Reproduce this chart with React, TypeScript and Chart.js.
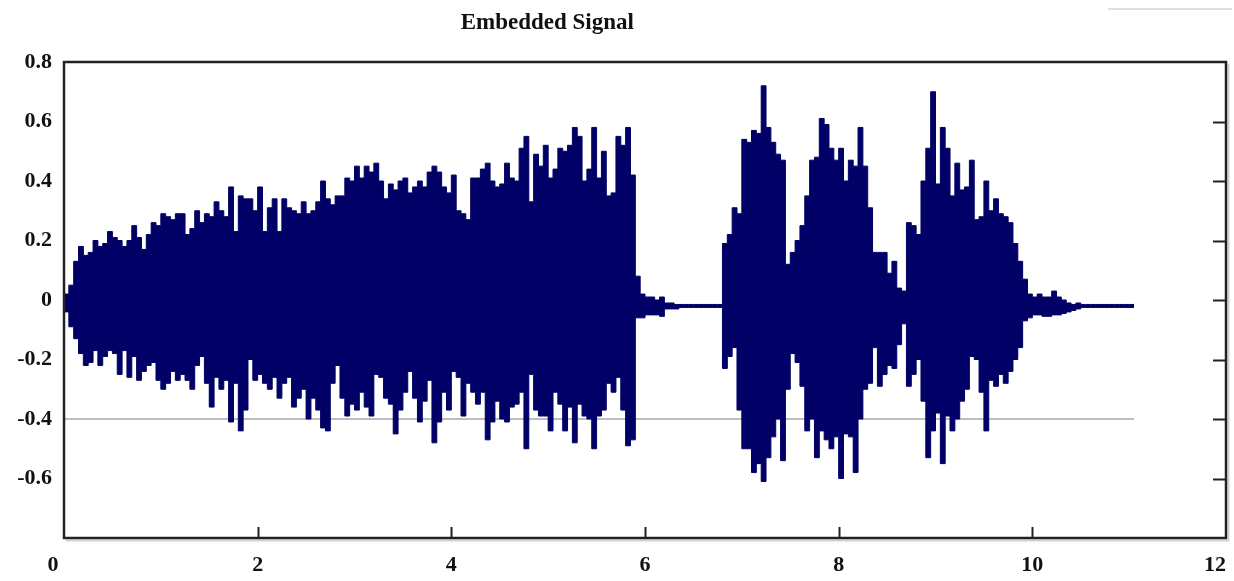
import React, { useEffect, useRef } from 'react';
import { Chart, registerables } from 'chart.js';

Chart.register(...registerables);

const TITLE = 'Embedded Signal';

// sampling interval of the envelope (seconds)
const SAMPLE_STEP = 0.05;

// upper envelope of the waveform, one value per sample
const UPPER = [
  0.02, 0.05, 0.13, 0.18, 0.15, 0.16, 0.2, 0.18, 0.19, 0.23,
  0.21, 0.2, 0.18, 0.2, 0.25, 0.21, 0.17, 0.22, 0.26, 0.25,
  0.29, 0.28, 0.27, 0.29, 0.29, 0.22, 0.24, 0.3, 0.26, 0.29,
  0.28, 0.33, 0.3, 0.28, 0.38, 0.23, 0.35, 0.34, 0.34, 0.3,
  0.38, 0.23, 0.31, 0.34, 0.23, 0.34, 0.31, 0.3, 0.29, 0.33,
  0.29, 0.3, 0.33, 0.4, 0.34, 0.32, 0.35, 0.35, 0.41, 0.4,
  0.45, 0.41, 0.45, 0.43, 0.46, 0.4, 0.34, 0.39, 0.37, 0.4,
  0.41, 0.36, 0.38, 0.4, 0.38, 0.43, 0.45, 0.43, 0.38, 0.36,
  0.42, 0.3, 0.29, 0.27, 0.41, 0.41, 0.44, 0.46, 0.4, 0.38,
  0.39, 0.46, 0.41, 0.4, 0.51, 0.55, 0.33, 0.49, 0.45, 0.52,
  0.41, 0.44, 0.51, 0.5, 0.52, 0.58, 0.55, 0.4, 0.44, 0.58,
  0.41, 0.5, 0.35, 0.36, 0.55, 0.52, 0.58, 0.42, 0.08, 0.02,
  0.01, 0.01, 0.0, 0.01, -0.01, -0.01, -0.015, -0.015, -0.015, -0.015,
  -0.015, -0.015, -0.015, -0.015, -0.015, -0.015, 0.19, 0.22, 0.31, 0.29,
  0.54, 0.53, 0.57, 0.56, 0.72, 0.58, 0.53, 0.49, 0.47, 0.12,
  0.16, 0.2, 0.25, 0.35, 0.47, 0.48, 0.61, 0.59, 0.51, 0.47,
  0.51, 0.4, 0.47, 0.45, 0.58, 0.45, 0.31, 0.16, 0.16, 0.16,
  0.09, 0.13, 0.04, 0.03, 0.26, 0.25, 0.22, 0.4, 0.51, 0.7,
  0.39, 0.58, 0.51, 0.35, 0.46, 0.37, 0.38, 0.47, 0.27, 0.28,
  0.4, 0.3, 0.34, 0.29, 0.28, 0.26, 0.19, 0.13, 0.07, 0.02,
  0.01, 0.02, 0.01, 0.01, 0.03, 0.01, 0.0, -0.01, -0.015, -0.01,
  -0.015, -0.015, -0.015, -0.015, -0.015, -0.015, -0.015, -0.015, -0.015, -0.015,
  -0.015,
];

// lower envelope of the waveform, one value per sample
const LOWER = [
  -0.04, -0.09, -0.13, -0.18, -0.22, -0.21, -0.17, -0.22, -0.19, -0.17,
  -0.18, -0.25, -0.17, -0.26, -0.19, -0.27, -0.24, -0.22, -0.21, -0.27,
  -0.3, -0.28, -0.24, -0.27, -0.25, -0.27, -0.3, -0.22, -0.19, -0.28,
  -0.36, -0.26, -0.3, -0.27, -0.41, -0.28, -0.44, -0.37, -0.2, -0.27,
  -0.25, -0.28, -0.3, -0.26, -0.33, -0.28, -0.26, -0.36, -0.33, -0.3,
  -0.4, -0.33, -0.37, -0.43, -0.44, -0.28, -0.22, -0.33, -0.39, -0.35,
  -0.37, -0.31, -0.36, -0.39, -0.25, -0.26, -0.33, -0.35, -0.45, -0.37,
  -0.31, -0.24, -0.33, -0.41, -0.34, -0.27, -0.48, -0.41, -0.31, -0.37,
  -0.24, -0.26, -0.39, -0.28, -0.31, -0.35, -0.31, -0.47, -0.41, -0.34,
  -0.4, -0.41, -0.36, -0.35, -0.31, -0.5, -0.25, -0.37, -0.39, -0.39,
  -0.44, -0.31, -0.35, -0.44, -0.36, -0.48, -0.35, -0.39, -0.4, -0.5,
  -0.39, -0.37, -0.28, -0.31, -0.26, -0.37, -0.49, -0.47, -0.06, -0.06,
  -0.05, -0.05, -0.05, -0.055, -0.03, -0.03, -0.03, -0.025, -0.025, -0.025,
  -0.025, -0.025, -0.025, -0.025, -0.025, -0.025, -0.23, -0.19, -0.16, -0.37,
  -0.5, -0.5, -0.58, -0.55, -0.61, -0.53, -0.46, -0.4, -0.54, -0.3,
  -0.18, -0.21, -0.29, -0.44, -0.4, -0.53, -0.44, -0.47, -0.5, -0.46,
  -0.6, -0.45, -0.46, -0.58, -0.4, -0.3, -0.28, -0.16, -0.29, -0.25,
  -0.22, -0.23, -0.15, -0.08, -0.29, -0.25, -0.2, -0.34, -0.53, -0.44,
  -0.38, -0.55, -0.39, -0.44, -0.4, -0.34, -0.3, -0.19, -0.2, -0.31,
  -0.44, -0.27, -0.29, -0.25, -0.28, -0.24, -0.2, -0.16, -0.07, -0.06,
  -0.05, -0.05, -0.055, -0.055, -0.05, -0.05, -0.045, -0.04, -0.035, -0.03,
  -0.025, -0.025, -0.025, -0.025, -0.025, -0.025, -0.025, -0.025, -0.025, -0.025,
  -0.025,
];

const X_MIN = 0;
const X_MAX = 12;
const Y_MIN = -0.8;
const Y_MAX = 0.8;
const X_TICKS = [0, 2, 4, 6, 8, 10, 12];
const Y_TICKS = [-0.6, -0.4, -0.2, 0, 0.2, 0.4, 0.6, 0.8];
const REF_LEVEL = -0.4;

const WAVE_COLOR = '#000066';
const FONT_FAMILY = '"Liberation Serif", "Times New Roman", serif';

const toPoints = (arr: number[]) => {
  const pts = arr.map((v, i) => ({ x: +(i * SAMPLE_STEP).toFixed(3), y: v }));
  pts.push({ x: +(arr.length * SAMPLE_STEP).toFixed(3), y: arr[arr.length - 1] });
  return pts;
};

const fmtY = (v: number) => {
  const r = Math.round(v * 10) / 10;
  return r === 0 ? '0' : r.toFixed(1);
};

// the first and last x labels sit slightly towards the inside / outside in the original
const fmtX = (v: number) => {
  if (v === X_MAX) return `${v}\u2002\u2002`;
  if (v === X_MIN) return `${v}\u2002\u2002`;
  return String(v);
};

const decorPlugin = {
  id: 'decor',
  afterDraw(chart: any) {
    const { ctx, chartArea: a, scales } = chart;
    ctx.save();
    // soft shadow of the frame
    ctx.strokeStyle = '#d2d2d2';
    ctx.lineWidth = 2;
    ctx.beginPath();
    ctx.moveTo(a.right + 2.5, a.top + 2);
    ctx.lineTo(a.right + 2.5, a.bottom + 2.5);
    ctx.lineTo(a.left + 2, a.bottom + 2.5);
    ctx.stroke();
    // frame
    ctx.strokeStyle = '#222';
    ctx.lineWidth = 2.5;
    ctx.strokeRect(a.left, a.top, a.right - a.left, a.bottom - a.top);
    // inner tick marks on the right
    ctx.lineWidth = 2;
    ctx.beginPath();
    for (const v of Y_TICKS) {
      if (v >= Y_MAX - 1e-9 || v <= Y_MIN + 1e-9) continue;
      const py = Math.round(scales.y.getPixelForValue(v)) + 0.5;
      ctx.moveTo(a.right - 13, py);
      ctx.lineTo(a.right, py);
    }
    // inner tick marks on the bottom
    for (const v of X_TICKS) {
      if (v <= X_MIN || v >= X_MAX) continue;
      const px = Math.round(scales.x.getPixelForValue(v)) + 0.5;
      ctx.moveTo(px, a.bottom - 11);
      ctx.lineTo(px, a.bottom);
    }
    ctx.stroke();
    // title
    ctx.fillStyle = '#111';
    ctx.font = `bold 23px ${FONT_FAMILY}`;
    ctx.textAlign = 'center';
    ctx.textBaseline = 'middle';
    ctx.fillText(TITLE, chart.width * 0.4435, 23);
    // faint line at top right
    ctx.strokeStyle = '#d4d4d4';
    ctx.lineWidth = 1.5;
    ctx.beginPath();
    ctx.moveTo(chart.width * 0.898, 9);
    ctx.lineTo(chart.width - 2, 9);
    ctx.stroke();
    ctx.restore();
  },
};

export default function App() {
  const canvasRef = useRef<HTMLCanvasElement | null>(null);

  useEffect(() => {
    const canvas = canvasRef.current;
    if (!canvas) return;
    const end = UPPER.length * SAMPLE_STEP;
    const tickFont = { family: FONT_FAMILY, size: 22, weight: 'bold' as const };
    const chart = new Chart(canvas, {
      type: 'line',
      data: {
        datasets: [
          {
            label: 'upper',
            data: toPoints(UPPER),
            stepped: true,
            borderColor: WAVE_COLOR,
            backgroundColor: WAVE_COLOR,
            borderWidth: 1,
            pointRadius: 0,
            fill: '+1',
            order: 1,
          },
          {
            label: 'lower',
            data: toPoints(LOWER),
            stepped: true,
            borderColor: WAVE_COLOR,
            backgroundColor: WAVE_COLOR,
            borderWidth: 1,
            pointRadius: 0,
            fill: false,
            order: 2,
          },
          {
            label: 'reference',
            data: [
              { x: X_MIN, y: REF_LEVEL },
              { x: end, y: REF_LEVEL },
            ],
            borderColor: '#a9a9a9',
            borderWidth: 1.5,
            pointRadius: 0,
            fill: false,
            order: 10,
          },
        ],
      },
      options: {
        animation: false,
        responsive: false,
        maintainAspectRatio: false,
        devicePixelRatio: 1,
        layout: { padding: { top: 62, left: 0, right: 0, bottom: 0 } },
        plugins: {
          legend: { display: false },
          tooltip: { enabled: false },
          title: { display: false },
        },
        scales: {
          x: {
            type: 'linear',
            min: X_MIN,
            max: X_MAX,
            grid: { display: false, drawTicks: false },
            border: { display: false },
            afterBuildTicks: (s: any) => {
              s.ticks = X_TICKS.map((v) => ({ value: v }));
            },
            ticks: {
              autoSkip: false,
              maxRotation: 0,
              padding: 14,
              color: '#111',
              font: tickFont,
              callback: (v: any) => fmtX(Number(v)),
            },
            afterFit: (s: any) => {
              s.height = 43;
              s.paddingLeft = 0;
              s.paddingRight = 0;
            },
          },
          y: {
            type: 'linear',
            position: 'left',
            min: Y_MIN,
            max: Y_MAX,
            grid: { display: false, drawTicks: false },
            border: { display: false },
            afterBuildTicks: (s: any) => {
              s.ticks = Y_TICKS.map((v) => ({ value: v }));
            },
            ticks: {
              autoSkip: false,
              padding: 12,
              color: '#111',
              font: tickFont,
              callback: (v: any) => fmtY(Number(v)),
            },
            afterFit: (s: any) => {
              s.width = 64;
              s.paddingTop = 0;
              s.paddingBottom = 0;
            },
          },
          y2: {
            type: 'linear',
            position: 'right',
            display: true,
            min: Y_MIN,
            max: Y_MAX,
            grid: { display: false, drawTicks: false },
            border: { display: false },
            ticks: { display: false },
            afterFit: (s: any) => {
              s.width = 8;
            },
          },
        },
      },
      plugins: [decorPlugin],
    });
    return () => chart.destroy();
  }, []);

  return (
    <div style={{ position: 'absolute', left: 0, top: 0, width: 1234, height: 581, background: '#fff' }}>
      <canvas ref={canvasRef} width={1234} height={581} style={{ width: 1234, height: 581, display: 'block' }} />
    </div>
  );
}
